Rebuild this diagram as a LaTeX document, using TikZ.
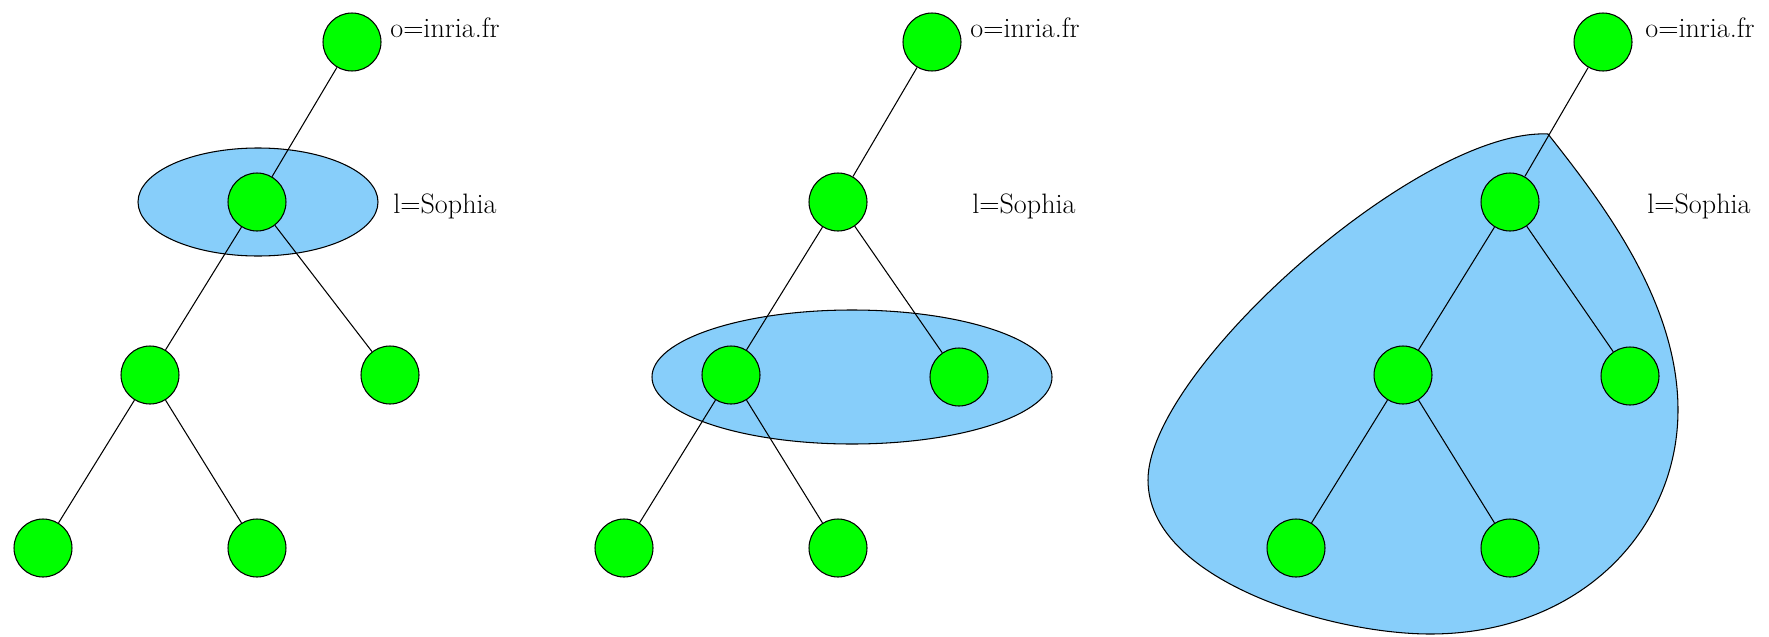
\documentclass[tikz,border=0pt]{standalone}
\usepackage{tikz}
\usepackage{xcolor}
\definecolor{leafgreen}{RGB}{0,255,0}
\definecolor{scopeblue}{RGB}{135,206,250}

\begin{document}
\begin{tikzpicture}[x=0.02cm,y=-0.02cm,
  entry/.style={circle,draw,fill=leafgreen,line width=0.6pt,minimum size=1.16cm,inner sep=0pt},
  zone/.style={draw,fill=scopeblue,line width=0.6pt},
  link/.style={line width=0.6pt},
  rdn/.style={anchor=base west,inner sep=0pt,font=\fontsize{16}{19}\selectfont}]
  \useasboundingbox (0,0) rectangle (1769,636);
  % search scopes
  \draw[zone] (258,202) ellipse [x radius=120, y radius=54];
  \draw[zone] (852,377) ellipse [x radius=200, y radius=67];
  \draw[zone] (1548,134) .. controls (1600,200) and (1678,300) .. (1678,410)
    .. controls (1678,530) and (1580,634) .. (1430,634)
    .. controls (1330,634) and (1148,580) .. (1148,480)
    .. controls (1148,370) and (1420,128) .. (1548,134) -- cycle;
  % base
  \node[entry] (r1) at (352,42) {};
  \node[entry] (s1) at (257,202) {};
  \node[entry] (a1) at (150,375) {};
  \node[entry] (b1) at (390,375) {};
  \node[entry] (c1) at (43,548) {};
  \node[entry] (d1) at (257,548) {};
  \draw[link] (r1) -- (s1);
  \draw[link] (s1) -- (a1);
  \draw[link] (s1) -- (b1);
  \draw[link] (a1) -- (c1);
  \draw[link] (a1) -- (d1);
  \node[rdn] (o1) at (390,37) {o=inria.fr};
  \node[rdn] (l1) at (393,213) {l=Sophia};
  % one level
  \node[entry] (r2) at (932,42) {};
  \node[entry] (s2) at (838,202) {};
  \node[entry] (a2) at (731,375) {};
  \node[entry] (b2) at (959,377) {};
  \node[entry] (c2) at (624,548) {};
  \node[entry] (d2) at (838,548) {};
  \draw[link] (r2) -- (s2);
  \draw[link] (s2) -- (a2);
  \draw[link] (s2) -- (b2);
  \draw[link] (a2) -- (c2);
  \draw[link] (a2) -- (d2);
  \node[rdn] (o2) at (970,37) {o=inria.fr};
  \node[rdn] (l2) at (972,213) {l=Sophia};
  % subtree
  \node[entry] (r3) at (1603,42) {};
  \node[entry] (s3) at (1510,202) {};
  \node[entry] (a3) at (1403,375) {};
  \node[entry] (b3) at (1630,376) {};
  \node[entry] (c3) at (1296,548) {};
  \node[entry] (d3) at (1510,548) {};
  \draw[link] (r3) -- (s3);
  \draw[link] (s3) -- (a3);
  \draw[link] (s3) -- (b3);
  \draw[link] (a3) -- (c3);
  \draw[link] (a3) -- (d3);
  \node[rdn] (o3) at (1645,37) {o=inria.fr};
  \node[rdn] (l3) at (1647,213) {l=Sophia};
\end{tikzpicture}
\end{document}
